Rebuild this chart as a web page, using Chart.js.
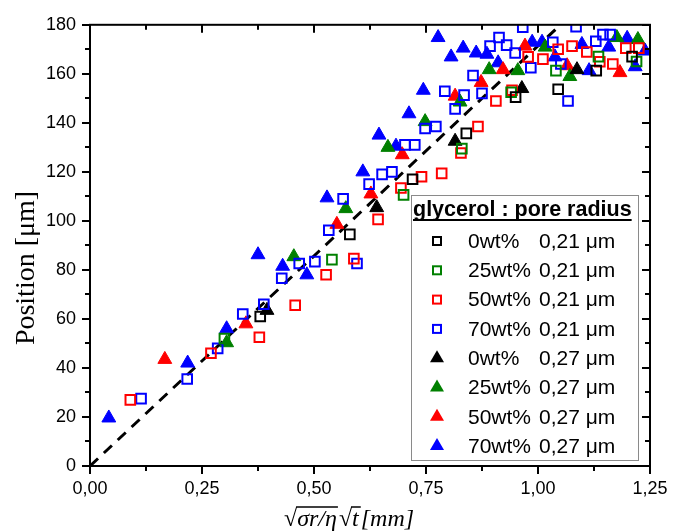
<!DOCTYPE html>
<html>
<head>
<meta charset="utf-8">
<script src="https://cdn.jsdelivr.net/npm/chart.js@4/dist/chart.umd.min.js"></script>
<style>
  html, body { margin: 0; padding: 0; background: #fff; }
  #wrap { width: 695px; height: 532px; }
</style>
</head>
<body>
<div id="wrap"><canvas id="posChart" width="695" height="532"></canvas></div>
<script>
// values
const xTicks = [0, 0.25, 0.5, 0.75, 1.0, 1.25];
const yTicks = [0, 20, 40, 60, 80, 100, 120, 140, 160, 180];

const black021 = [[0.38,61],[0.58,94.5],[0.72,117],[0.84,135.7],[0.95,150.5],[1.045,153.7],[1.13,161.3],[1.21,167]];
const green021 = [[0.30,52],[0.54,84.2],[0.70,110.6],[0.83,129.5],[0.94,152.5],[1.04,161.3],[1.135,167],[1.22,165]];
const red021 = [[0.09,27],[0.27,46],[0.378,52.5],[0.458,65.6],[0.527,78],[0.589,84.6],[0.643,100.6],[0.694,113.4],
  [0.74,118],[0.785,119.4],[0.828,127.7],[0.866,138.5],[0.906,148.9],[0.942,153.3],[0.978,166.9],[1.011,166],
  [1.045,170],[1.076,171.3],[1.109,168.9],[1.138,164.9],[1.167,164],[1.196,170.5],[1.225,170.5]];
const blue021 = [[0.114,27.5],[0.217,35.5],[0.285,48],[0.341,62],[0.388,66],[0.428,76.6],[0.467,82.6],[0.502,83.4],
  [0.596,82.6],[0.533,96.2],[0.565,109],[0.623,115],[0.652,119],[0.674,120],[0.703,131],[0.725,131],[0.748,137.7],
  [0.772,138.5],[0.815,145.7],[0.792,152.9],[0.835,151.3],[0.875,152],[0.855,159.3],[0.893,171.3],[0.913,174.8],
  [0.93,171.7],[0.949,168.5],[0.966,179],[0.984,162.5],[1.033,172.9],[1.051,164],[1.067,148.9],[1.085,179.2],
  [1.129,173.3],[1.145,176],[1.161,176]];
const black027 = [[0.395,63.5],[0.64,105.4],[0.815,132.5],[0.964,154],[1.087,161.7]];
const green027 = [[0.305,50.3],[0.455,85.4],[0.571,105],[0.665,130],[0.748,140.5],[0.826,148.5],[0.891,161.7],
  [0.955,161.3],[1.016,170.9],[1.071,158.9],[1.176,174.8],[1.223,174]];
const red027 = [[0.167,43.5],[0.348,58],[0.551,98.6],[0.627,111],[0.697,127],[0.815,150.9],[0.873,156.5],
  [0.922,161.7],[0.971,171.3],[1.065,163.3],[1.183,160.5]];
const blue027 = [[0.042,19.6],[0.218,42],[0.305,56],[0.375,86.2],[0.43,81.5],[0.484,78],[0.529,109.4],[0.609,120],
  [0.645,135],[0.683,130.5],[0.712,143.7],[0.744,153.3],[0.777,174.8],[0.806,166.9],[0.833,170.5],[0.862,168.5],
  [0.886,168],[0.911,164.5],[0.987,172.9],[1.009,172.9],[1.038,166.9],[1.098,172],[1.114,161.3],[1.158,170.9],
  [1.199,174.5],[1.217,162.9],[1.239,169.3]];
const fitLine = [[0, 0], [1.05, 180]];

const legendTitle = 'glycerol : pore radius';
const legendConc = ['0wt%', '25wt%', '50wt%', '70wt%', '0wt%', '25wt%', '50wt%', '70wt%'];
const legendRadius = ['0,21 μm', '0,21 μm', '0,21 μm', '0,21 μm', '0,27 μm', '0,27 μm', '0,27 μm', '0,27 μm'];

const seriesData = [black021, green021, red021, blue021, black027, green027, red027, blue027];
const seriesColors = ['#000000', '#008000', '#ff0000', '#0000ff', '#000000', '#008000', '#ff0000', '#0000ff'];

function toPoints(arr) {
  return arr.map(p => ({x: p[0], y: p[1]}));
}

function commaNum(v, d) {
  return Number(v).toFixed(d).replace('.', ',');
}

const datasets = seriesData.map((arr, i) => {
  const isSquare = i < 4;
  return {
    label: legendConc[i] + ' ' + legendRadius[i],
    data: toPoints(arr),
    pointStyle: isSquare ? 'rect' : 'triangle',
    pointRadius: isSquare ? 6.8 : 8,
    pointBorderWidth: isSquare ? 2 : 1,
    borderColor: seriesColors[i],
    backgroundColor: isSquare ? 'rgba(0,0,0,0)' : seriesColors[i],
    pointHoverRadius: 0
  };
});

datasets.push({
  type: 'line',
  label: 'fit',
  data: toPoints(fitLine),
  borderColor: '#000',
  borderWidth: 3,
  borderDash: [11, 8],
  pointRadius: 0,
  fill: false
});

// tick marks: outward on left/bottom, inward on top/right, minor ticks halfway
const tickMarks = {
  id: 'tickMarks',
  afterDraw(chart) {
    const {ctx, chartArea: a, scales: {x, y}} = chart;
    ctx.save();
    ctx.strokeStyle = '#000';
    ctx.lineWidth = 2;
    ctx.strokeRect(a.left, a.top, a.right - a.left, a.bottom - a.top);
    for (let v = 0; v <= 180; v += 10) {
      const py = Math.round(y.getPixelForValue(v));
      const len = v % 20 === 0 ? 8 : 5;
      ctx.beginPath();
      ctx.moveTo(a.left - len, py); ctx.lineTo(a.left, py);
      ctx.moveTo(a.right - len, py); ctx.lineTo(a.right, py);
      ctx.stroke();
    }
    for (let k = 0; k <= 10; k++) {
      const px = Math.round(x.getPixelForValue(k * 0.125));
      const len = k % 2 === 0 ? 8 : 5;
      ctx.beginPath();
      ctx.moveTo(px, a.bottom); ctx.lineTo(px, a.bottom + len);
      ctx.moveTo(px, a.top); ctx.lineTo(px, a.top + len);
      ctx.stroke();
    }
    ctx.restore();
  }
};

// axis titles
const axisTitles = {
  id: 'axisTitles',
  afterDraw(chart) {
    const ctx = chart.ctx;
    ctx.save();
    ctx.fillStyle = '#000';
    ctx.translate(27, 268);
    ctx.rotate(-Math.PI / 2);
    ctx.font = '28px "Liberation Serif"';
    ctx.textAlign = 'center';
    ctx.textBaseline = 'middle';
    ctx.fillText('Position [μm]', 0, 0);
    ctx.restore();

    ctx.save();
    ctx.fillStyle = '#000';
    ctx.strokeStyle = '#000';
    ctx.lineWidth = 1.5;
    ctx.textBaseline = 'alphabetic';
    const base = 526;
    let cx = 284;
    const up = '24px "Liberation Serif"';
    const it = 'italic 24px "Liberation Serif"';
    ctx.font = up; ctx.fillText('√', cx, base); cx += ctx.measureText('√').width;
    ctx.font = it;
    const w1 = ctx.measureText('σr/η').width;
    ctx.fillText('σr/η', cx, base);
    ctx.beginPath(); ctx.moveTo(cx - 1, base - 19); ctx.lineTo(cx + w1 + 1, base - 19); ctx.stroke();
    cx += w1 + 2;
    ctx.font = up; ctx.fillText('√', cx, base); cx += ctx.measureText('√').width;
    ctx.font = it;
    const w2 = ctx.measureText('t').width;
    ctx.fillText('t', cx, base);
    ctx.beginPath(); ctx.moveTo(cx - 1, base - 19); ctx.lineTo(cx + w2 + 2, base - 19); ctx.stroke();
    cx += w2 + 2;
    ctx.fillText('[mm]', cx, base);
    ctx.restore();
  }
};

// boxed legend with two text columns
const boxLegend = {
  id: 'boxLegend',
  afterDraw(chart) {
    const ctx = chart.ctx;
    ctx.save();
    ctx.fillStyle = '#fff';
    ctx.fillRect(411, 195, 227, 265);
    ctx.strokeStyle = '#8a8a8a';
    ctx.lineWidth = 1;
    ctx.strokeRect(411.5, 195.5, 227, 265);

    ctx.fillStyle = '#000';
    ctx.font = 'bold 21.5px "Liberation Sans"';
    ctx.textBaseline = 'alphabetic';
    ctx.fillText(legendTitle, 413, 216);
    const tw = ctx.measureText(legendTitle).width;
    ctx.fillRect(413, 219, tw, 2);

    ctx.font = '21px "Liberation Sans"';
    ctx.textBaseline = 'middle';
    chart.data.datasets.slice(0, 8).forEach((ds, i) => {
      const yy = 241 + i * 29.3;
      const sx = 437;
      ctx.strokeStyle = ds.borderColor;
      ctx.fillStyle = ds.backgroundColor;
      if (ds.pointStyle === 'rect') {
        ctx.lineWidth = 2;
        ctx.strokeRect(sx - 4, yy - 4, 8, 8);
      } else {
        ctx.beginPath();
        ctx.moveTo(sx, yy - 8);
        ctx.lineTo(sx + 7, yy + 4);
        ctx.lineTo(sx - 7, yy + 4);
        ctx.closePath();
        ctx.fill();
      }
      ctx.fillStyle = '#000';
      ctx.fillText(legendConc[i], 468, yy + 1);
      ctx.fillText(legendRadius[i], 539, yy + 1);
    });
    ctx.restore();
  }
};

const ctx = document.getElementById('posChart').getContext('2d');
new Chart(ctx, {
  type: 'scatter',
  data: { datasets: datasets },
  options: {
    responsive: false,
    animation: false,
    events: [],
    layout: { padding: { left: 0, right: 45, top: 15, bottom: 0 } },
    plugins: { legend: { display: false }, tooltip: { enabled: false } },
    scales: {
      x: {
        type: 'linear',
        min: 0,
        max: 1.25,
        afterBuildTicks: s => { s.ticks = xTicks.map(v => ({value: v})); },
        afterFit: s => { s.height = 66; },
        grid: { display: false, drawTicks: false },
        border: { display: false },
        ticks: {
          color: '#000',
          padding: 12,
          maxRotation: 0,
          font: { family: 'Liberation Sans', size: 18 },
          callback: v => commaNum(v, 2)
        }
      },
      y: {
        type: 'linear',
        min: 0,
        max: 180,
        afterBuildTicks: s => { s.ticks = yTicks.map(v => ({value: v})); },
        afterFit: s => { s.width = 90; },
        grid: { display: false, drawTicks: false },
        border: { display: false },
        ticks: {
          color: '#000',
          padding: 14,
          font: { family: 'Liberation Sans', size: 18 },
          callback: v => String(v)
        }
      }
    }
  },
  plugins: [tickMarks, axisTitles, boxLegend]
});
</script>
</body>
</html>
